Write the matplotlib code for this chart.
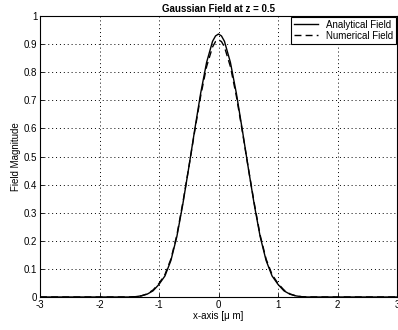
import matplotlib
matplotlib.use("Agg")
import matplotlib.pyplot as plt

# Datos (x en micrómetros)
x_vals = [-3.0, -1.6, -1.5, -1.4, -1.3, -1.2, -1.1, -1.0, -0.9, -0.8, -0.7, -0.6,
          -0.5, -0.4, -0.3, -0.2, -0.1, -0.05, 0.0, 0.05, 0.1, 0.2, 0.3, 0.4,
          0.5, 0.6, 0.7, 0.8, 0.9, 1.0, 1.1, 1.2, 1.3, 1.4, 1.5, 1.6, 3.0]
campo_analitico = [0.0, 0.0, 0.0, 0.001, 0.004, 0.010, 0.022, 0.045, 0.075, 0.130, 0.215, 0.330,
                   0.460, 0.595, 0.725, 0.835, 0.910, 0.929, 0.936, 0.929, 0.910, 0.835, 0.725, 0.595,
                   0.460, 0.330, 0.215, 0.130, 0.075, 0.045, 0.022, 0.010, 0.004, 0.001, 0.0, 0.0, 0.0]
campo_numerico = [0.0, 0.0, 0.0, 0.001, 0.004, 0.011, 0.025, 0.048, 0.080, 0.135, 0.220, 0.335,
                  0.460, 0.590, 0.715, 0.820, 0.890, 0.909, 0.915, 0.909, 0.890, 0.820, 0.715, 0.590,
                  0.460, 0.335, 0.220, 0.135, 0.080, 0.048, 0.025, 0.011, 0.004, 0.001, 0.0, 0.0, 0.0]

xticks = [-3, -2, -1, 0, 1, 2, 3]
yticks = [0, 0.1, 0.2, 0.3, 0.4, 0.5, 0.6, 0.7, 0.8, 0.9, 1]

plt.rcParams['font.family'] = ['Liberation Sans', 'DejaVu Sans']
plt.rcParams['font.size'] = 7

fig = plt.figure(figsize=(3.98, 3.30), dpi=100)
ax = fig.add_axes([0.1005, 0.10, 0.897, 0.8515])

ax.plot(x_vals, campo_analitico, color='black', linewidth=1.0, label='Analytical Field')
ax.plot(x_vals, campo_numerico, color='black', linewidth=1.0, linestyle=(0, (5, 3)),
        label='Numerical Field')

ax.set_xlim(-3, 3)
ax.set_ylim(0, 1)
ax.set_xticks(xticks)
ax.set_xticklabels([str(t) for t in xticks])
ax.set_yticks(yticks)
ax.set_yticklabels(['0', '0.1', '0.2', '0.3', '0.4', '0.5', '0.6', '0.7', '0.8', '0.9', '1'])
ax.tick_params(direction='in', length=3, width=0.6, pad=2)
ax.grid(True, color='black', linestyle=(0, (1, 3)), linewidth=0.7)
for s in ax.spines.values():
    s.set_linewidth(0.8)

ax.set_title('Gaussian Field at z = 0.5', fontweight='bold', fontsize=7, pad=3)
ax.set_xlabel('x-axis [\u03bc m]', labelpad=1)
ax.set_ylabel('Field Magnitude', labelpad=2)

leg = ax.legend(loc='upper right', fancybox=False, framealpha=1, edgecolor='black',
                borderaxespad=0.1, handlelength=2.5, borderpad=0.3, labelspacing=0.1,
                handletextpad=0.8)
leg.get_frame().set_linewidth(0.8)

fig.savefig('out.png', dpi=100)
